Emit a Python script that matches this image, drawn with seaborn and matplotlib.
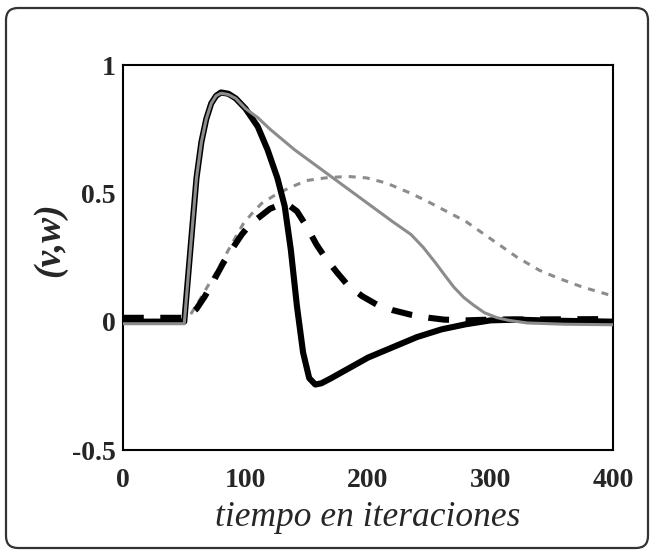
import matplotlib
matplotlib.use("Agg")
import matplotlib.pyplot as plt
from matplotlib.patches import FancyBboxPatch
from matplotlib.transforms import IdentityTransform
import seaborn as sns

# membrane potential v (thick black)
t_v = [0, 50, 55, 60, 64, 68, 72, 76, 80, 86, 92, 100, 110, 118, 126, 132, 137,
       142, 147, 152, 157, 162, 170, 185, 200, 220, 240, 260, 280, 300, 320, 350, 400]
v = [0.0, 0.0, 0.28, 0.56, 0.70, 0.79, 0.85, 0.88, 0.893, 0.888, 0.87, 0.83, 0.76,
     0.67, 0.56, 0.45, 0.28, 0.06, -0.12, -0.22, -0.245, -0.24, -0.22, -0.18, -0.14,
     -0.10, -0.06, -0.03, -0.01, 0.005, 0.008, 0.004, 0.0]

# recovery variable w (thick black dashed)
t_w = [0, 50, 55, 60, 67, 74, 82, 90, 97, 104, 112, 120, 128, 135, 142, 150, 158,
       165, 175, 183, 195, 207, 220, 235, 250, 262, 280, 300, 400]
w = [0.015, 0.015, 0.03, 0.05, 0.10, 0.16, 0.23, 0.29, 0.34, 0.38, 0.41, 0.44, 0.455,
     0.455, 0.43, 0.37, 0.30, 0.25, 0.19, 0.145, 0.10, 0.067, 0.045, 0.027, 0.015,
     0.008, 0.005, 0.008, 0.01]

# second cell potential (thin gray)
t_v2 = [0, 50, 55, 60, 64, 68, 72, 76, 80, 86, 92, 100, 110, 120, 140, 160, 180, 200,
        220, 235, 245, 255, 262, 270, 278, 286, 295, 305, 315, 330, 360, 400]
v2 = [-0.008, -0.008, 0.28, 0.56, 0.70, 0.79, 0.85, 0.88, 0.89, 0.885, 0.87, 0.83,
      0.795, 0.75, 0.67, 0.60, 0.53, 0.46, 0.39, 0.34, 0.29, 0.23, 0.185, 0.135, 0.095,
      0.065, 0.035, 0.016, 0.005, -0.005, -0.01, -0.012]

# second cell recovery variable (thin gray dashed)
t_w2 = [0, 50, 55, 62, 70, 77, 85, 92, 98, 105, 113, 123, 135, 150, 165, 183, 199,
        215, 235, 250, 262, 280, 295, 310, 322, 340, 355, 375, 400]
w2 = [0.005, 0.005, 0.027, 0.08, 0.145, 0.2, 0.27, 0.33, 0.38, 0.42, 0.46, 0.49, 0.52,
      0.55, 0.56, 0.566, 0.56, 0.54, 0.50, 0.465, 0.435, 0.39, 0.34, 0.29, 0.25, 0.20,
      0.17, 0.135, 0.10]

x_ticks = [0, 100, 200, 300, 400]
y_ticks = [-0.5, 0, 0.5, 1]
y_tick_labels = ["-0.5", "0", "0.5", "1"]

sns.set_style("white")
plt.rcParams["font.family"] = ["Liberation Serif", "DejaVu Serif"]

fig = plt.figure(figsize=(6.52, 5.5), dpi=100)
ax = fig.add_axes([123 / 652, 1 - 450 / 550, 490 / 652, 385 / 550])

gray = "#8c8c8c"
sns.lineplot(x=t_w2, y=w2, ax=ax, color=gray, lw=2.2, sort=False,
             linestyle=(0, (2.3, 2.3)), zorder=2)
sns.lineplot(x=t_w, y=w, ax=ax, color="black", lw=4.4, sort=False,
             linestyle=(0, (3.4, 2.7)), zorder=3)
sns.lineplot(x=t_v, y=v, ax=ax, color="black", lw=4.4, sort=False, zorder=4)
sns.lineplot(x=t_v2, y=v2, ax=ax, color=gray, lw=2.2, sort=False, zorder=5)
for line in ax.lines:
    line.set_solid_joinstyle("round")
    line.set_dash_capstyle("butt")

ax.set_xlim(0, 400)
ax.set_ylim(-0.5, 1.0)
ax.set_xticks(x_ticks)
ax.set_xticklabels([str(t) for t in x_ticks])
ax.set_yticks(y_ticks)
ax.set_yticklabels(y_tick_labels)
ax.tick_params(axis="both", length=0, labelsize=20)
ax.tick_params(axis="x", pad=13)
ax.tick_params(axis="y", pad=5)
for lab in ax.get_xticklabels() + ax.get_yticklabels():
    lab.set_fontweight("bold")

for sp in ax.spines.values():
    sp.set_visible(True)
    sp.set_color("black")
    sp.set_linewidth(1.5)

ax.set_xlabel("tiempo en iteraciones", fontsize=25.5, fontstyle="italic", labelpad=6)
ax.set_ylabel("(v,w)", fontsize=27, fontstyle="italic", fontweight="bold")
ax.yaxis.set_label_coords(-0.114, 0.545)

frame = FancyBboxPatch((6, 2), 642, 540, boxstyle="round,pad=0,rounding_size=12",
                       transform=IdentityTransform(), facecolor="none",
                       edgecolor="#333333", linewidth=1.6, zorder=10)
fig.patches.append(frame)

fig.savefig("out.png", dpi=100)
